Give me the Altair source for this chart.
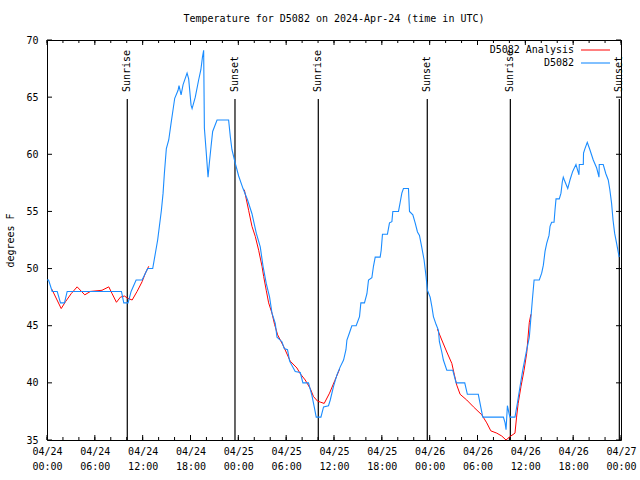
import altair as alt
import pandas as pd

TITLE = "Temperature for D5082 on 2024-Apr-24 (time in UTC)"
Y_TITLE = "degrees F"
SERIES_NAMES = ["D5082 Analysis", "D5082"]
SERIES_COLORS = ["#ff0000", "#1a8cff"]

# hours since 2024-04-24 00:00 UTC
blue_hours = [0.0, 0.2, 0.65, 1.28, 1.69, 2.19, 2.53, 9.34, 9.63, 10.17, 10.55, 11.18, 11.93, 12.63, 13.26,
              13.88, 14.35, 14.56, 14.72, 14.97, 15.27, 15.56, 15.81, 16.02, 16.44, 16.56, 16.82, 17.07,
              17.57, 17.77, 18.07, 18.2, 18.6, 19.02, 19.3, 19.5, 19.65, 19.74, 19.95, 20.2, 20.36, 20.58,
              20.78, 21.33, 22.78, 23.0, 23.2, 23.62, 24.04, 24.59, 25.16, 25.71, 26.25, 26.75, 27.1, 27.5,
              27.92, 28.22, 28.63, 28.85, 29.47, 29.76, 30.17, 30.43, 31.14, 31.77, 32.1, 32.8, 33.23,
              33.52, 33.77, 34.36, 34.69, 35.31, 35.53, 35.94, 36.37, 36.78, 37.2, 37.5, 37.62, 37.9,
              38.24, 38.78, 39.2, 39.37, 39.82, 40.13, 40.33, 40.75, 40.95, 41.17, 41.79, 41.92, 42.08,
              42.7, 42.96, 43.26, 43.38, 44.09, 44.3, 44.51, 44.71, 45.34, 45.47, 45.89, 46.18, 46.47,
              46.72, 47.0, 47.3, 47.55, 47.72, 48.06, 48.27, 48.47, 48.81, 49.1, 49.22, 49.52, 49.72,
              50.15, 50.9, 51.32, 52.4, 52.73, 54.1, 54.66, 57.25, 57.46, 57.58, 57.75, 57.96, 58.08,
              58.7, 59.0, 59.34, 59.67, 60.09, 60.5, 60.88, 61.1, 61.75, 62.05, 62.26, 62.47, 62.68,
              62.97, 63.1, 63.3, 63.6, 63.72, 63.85, 64.26, 64.47, 64.64, 64.76, 64.89, 65.32, 65.6,
              65.94, 66.35, 66.73, 66.77, 67.27, 67.3, 67.48, 67.77, 68.1, 68.52, 68.95, 69.24, 69.27,
              69.77, 70.1, 70.4, 70.6, 70.82, 71.0, 71.2, 71.45, 71.77]
blue_temps = [49.0, 49.0, 48.0, 48.0, 47.0, 47.0, 48.0, 48.0, 47.0, 47.0, 48.0, 49.0, 49.0, 50.0, 50.0,
              52.5, 55.1, 56.6, 58.3, 60.5, 61.25, 62.7, 63.9, 64.9, 65.6, 66.0, 65.2, 66.1,
              67.1, 66.6, 64.3, 64.0, 65.0, 66.5, 67.4, 68.5, 69.1, 62.3, 60.4, 58.0, 59.2, 60.7,
              62.0, 63.0, 63.0, 61.5, 60.4, 59.2, 58.1, 57.0, 56.0, 54.8, 53.1, 51.9, 50.2, 48.7,
              47.5, 46.1, 45.2, 44.0, 43.6, 43.0, 42.9, 41.9, 41.0, 40.9, 40.0, 40.0, 38.9,
              37.9, 37.0, 37.0, 37.9, 38.0, 38.5, 39.7, 40.7, 41.4, 42.0, 42.9, 43.75, 44.3,
              45.0, 45.0, 45.8, 47.0, 47.0, 47.8, 49.0, 49.2, 50.2, 51.0, 51.0, 51.6, 53.0,
              53.0, 54.0, 54.1, 55.0, 55.0, 55.8, 56.6, 57.0, 57.0, 55.0, 54.7, 54.0, 53.2,
              52.9, 51.9, 50.75, 49.3, 48.1, 47.5, 46.7, 45.8, 45.1, 44.6, 43.6, 42.7, 42.0,
              41.1, 41.1, 40.0, 40.0, 39.0, 39.0, 37.0, 37.0, 36.5, 35.9, 38.0, 37.3, 37.0,
              37.0, 38.2, 39.7, 41.1, 42.6, 44.0, 47.25, 49.0, 49.0, 49.6, 50.3, 51.5, 52.2,
              52.9, 53.7, 54.05, 54.05, 55.1, 56.1, 56.1, 56.6, 57.6, 58.0, 57.75, 57.0, 57.75,
              58.5, 59.1, 58.2, 59.1, 59.1, 60.1, 60.5, 61.05, 60.4, 59.5, 58.8, 58.0, 59.1,
              59.1, 58.3, 57.75, 56.9, 55.7, 54.25, 53.1, 52.2, 51.0]

red1_hours = [0.6, 1.78, 2.32, 3.03, 3.78, 4.74, 5.45, 6.9, 7.75, 8.17, 8.71, 9.21, 9.71, 10.13, 10.68,
              11.3, 11.93, 12.34, 12.76]
red1_temps = [48.2, 46.5, 47.1, 47.8, 48.4, 47.7, 48.0, 48.1, 48.4, 47.8, 47.05, 47.5, 47.6, 47.4, 47.25,
              48.0, 48.85, 49.6, 50.2]
red2_hours = [24.75, 25.29, 25.71, 26.13, 26.55, 26.97, 27.18, 27.5, 27.8, 28.22, 28.55, 28.93, 29.26,
              29.67, 30.51, 31.35, 31.77, 32.39, 33.02, 33.43, 33.94, 34.35, 34.77, 35.44, 36.1, 36.7]
red2_temps = [56.9, 55.1, 53.7, 52.8, 51.6, 50.2, 49.3, 48.1, 47.0, 46.1, 45.1, 44.2, 43.75,
              43.2, 41.9, 41.3, 40.8, 40.25, 39.5, 38.8, 38.4, 38.3, 38.2, 39.1, 40.2, 41.2]
red3_hours = [48.97, 49.52, 50.15, 50.78, 51.1, 51.4, 51.82, 52.65, 53.49, 54.54, 55.16, 55.67, 56.42,
              57.04, 57.58, 58.08, 58.7, 58.9, 59.1, 59.46, 59.84, 60.17, 60.5, 60.7]
red3_temps = [44.7, 43.75, 42.7, 41.7, 40.7, 39.8, 39.0, 38.5, 37.9, 37.2, 36.5, 35.8, 35.6,
              35.35, 35.0, 35.3, 35.6, 37.0, 38.2, 39.7, 41.1, 42.6, 45.3, 46.0]

event_hours = [10.07, 23.58, 34.03, 47.7, 58.12, 71.79]
event_labels = ["Sunrise", "Sunset", "Sunrise", "Sunset", "Sunrise", "Sunset"]

x_tick_hours = [0, 6, 12, 18, 24, 30, 36, 42, 48, 54, 60, 66, 72]
x_tick_dates = ["04/24", "04/24", "04/24", "04/24", "04/25", "04/25", "04/25", "04/25",
                "04/26", "04/26", "04/26", "04/26", "04/27"]
x_tick_times = ["00:00", "06:00", "12:00", "18:00", "00:00", "06:00", "12:00", "18:00",
                "00:00", "06:00", "12:00", "18:00", "00:00"]
x_minor_hours = list(range(0, 73, 2))
y_ticks = [35, 40, 45, 50, 55, 60, 65, 70]

FONT = "DejaVu Sans Mono"
W, H = 574, 400

blue_df = pd.DataFrame({"h": blue_hours, "t": blue_temps})
red_df = pd.concat([
    pd.DataFrame({"h": red1_hours, "t": red1_temps, "seg": "a"}),
    pd.DataFrame({"h": red2_hours, "t": red2_temps, "seg": "b"}),
    pd.DataFrame({"h": red3_hours, "t": red3_temps, "seg": "c"}),
], ignore_index=True)
events_df = pd.DataFrame({"h": event_hours, "label": event_labels})
major_df = pd.DataFrame({"h": x_tick_hours})
minor_df = pd.DataFrame({"h": x_minor_hours})
yt_df = pd.DataFrame({"t": y_ticks})

label_expr = "[" + ",".join(f"['{d}','{t}']" for d, t in zip(x_tick_dates, x_tick_times)) + "][round(datum.value/6)]"

x_axis = alt.Axis(values=x_tick_hours, labelExpr=label_expr, title=None, grid=False, ticks=False,
                  domain=False, labelFont=FONT, labelFontSize=10, labelColor="black", labelPadding=6,
                  labelLineHeight=15, labelFlush=False, labelOverlap=False)
y_axis = alt.Axis(values=y_ticks, title=Y_TITLE, grid=False, ticks=False, domain=False,
                  labelFont=FONT, labelFontSize=10, labelColor="black", labelPadding=9,
                  labelFlush=False, titleFont=FONT, titleFontSize=10, titleFontWeight="normal",
                  titleColor="black", titleX=-37, titleY=200, titleAngle=270, titleAlign="center",
                  titleBaseline="middle")
x_scale = alt.Scale(domain=[0, 72], nice=False, zero=False)
y_scale = alt.Scale(domain=[35, 70], nice=False, zero=False)


def X():
    return alt.X("h:Q", scale=x_scale, axis=x_axis)


def Y():
    return alt.Y("t:Q", scale=y_scale, axis=y_axis)


events = alt.Chart(events_df).mark_rule(color="black", strokeWidth=1.2).encode(
    x=X(), y=alt.value(59), y2=alt.value(H))
event_text = alt.Chart(events_df).mark_text(
    angle=270, align="left", baseline="middle", font=FONT, fontSize=10, color="black").encode(
    x=X(), y=alt.value(52), text="label:N")

major_bottom = alt.Chart(major_df).mark_rule(color="black").encode(x=X(), y=alt.value(H), y2=alt.value(H - 5))
major_top = alt.Chart(major_df).mark_rule(color="black").encode(x=X(), y=alt.value(0), y2=alt.value(5))
minor_bottom = alt.Chart(minor_df).mark_rule(color="black").encode(x=X(), y=alt.value(H), y2=alt.value(H - 3))
minor_top = alt.Chart(minor_df).mark_rule(color="black").encode(x=X(), y=alt.value(0), y2=alt.value(3))
ytick_left = alt.Chart(yt_df).mark_rule(color="black").encode(y=Y(), x=alt.value(0), x2=alt.value(5))
ytick_right = alt.Chart(yt_df).mark_rule(color="black").encode(y=Y(), x=alt.value(W), x2=alt.value(W - 5))

red = alt.Chart(red_df).mark_line(color=SERIES_COLORS[0], strokeWidth=1).encode(
    x=X(), y=Y(), detail="seg:N")
blue = alt.Chart(blue_df).mark_line(color=SERIES_COLORS[1], strokeWidth=1.1).encode(x=X(), y=Y())

leg1_df = pd.DataFrame({"name": [SERIES_NAMES[0]]})
leg2_df = pd.DataFrame({"name": [SERIES_NAMES[1]]})
leg_text1 = alt.Chart(leg1_df).mark_text(align="right", baseline="middle", font=FONT, fontSize=10,
                                         color="black").encode(x=alt.value(527), y=alt.value(10), text="name:N")
leg_text2 = alt.Chart(leg2_df).mark_text(align="right", baseline="middle", font=FONT, fontSize=10,
                                         color="black").encode(x=alt.value(527), y=alt.value(23), text="name:N")
leg_line1 = alt.Chart(leg1_df).mark_rule(color=SERIES_COLORS[0], strokeWidth=1).encode(
    x=alt.value(534), x2=alt.value(563), y=alt.value(10))
leg_line2 = alt.Chart(leg2_df).mark_rule(color=SERIES_COLORS[1], strokeWidth=1.1).encode(
    x=alt.value(534), x2=alt.value(563), y=alt.value(23))

title_df = pd.DataFrame({"text": [TITLE]})
title = alt.Chart(title_df).mark_text(align="center", baseline="middle", font=FONT, fontSize=10,
                                      color="black").encode(x=alt.value(W / 2), y=alt.value(-21), text="text:N")

chart = alt.layer(
    events, event_text, major_bottom, major_top, minor_bottom, minor_top, ytick_left, ytick_right,
    red, blue, leg_text1, leg_text2, leg_line1, leg_line2, title
).properties(
    width=W, height=H,
    autosize=alt.AutoSizeParams(type="none"),
    padding={"left": 47, "top": 40, "right": 19, "bottom": 40},
    background="white",
).configure_view(stroke="black", strokeWidth=1)

chart.save("out.html", embed_options={"renderer": "svg", "actions": False})
